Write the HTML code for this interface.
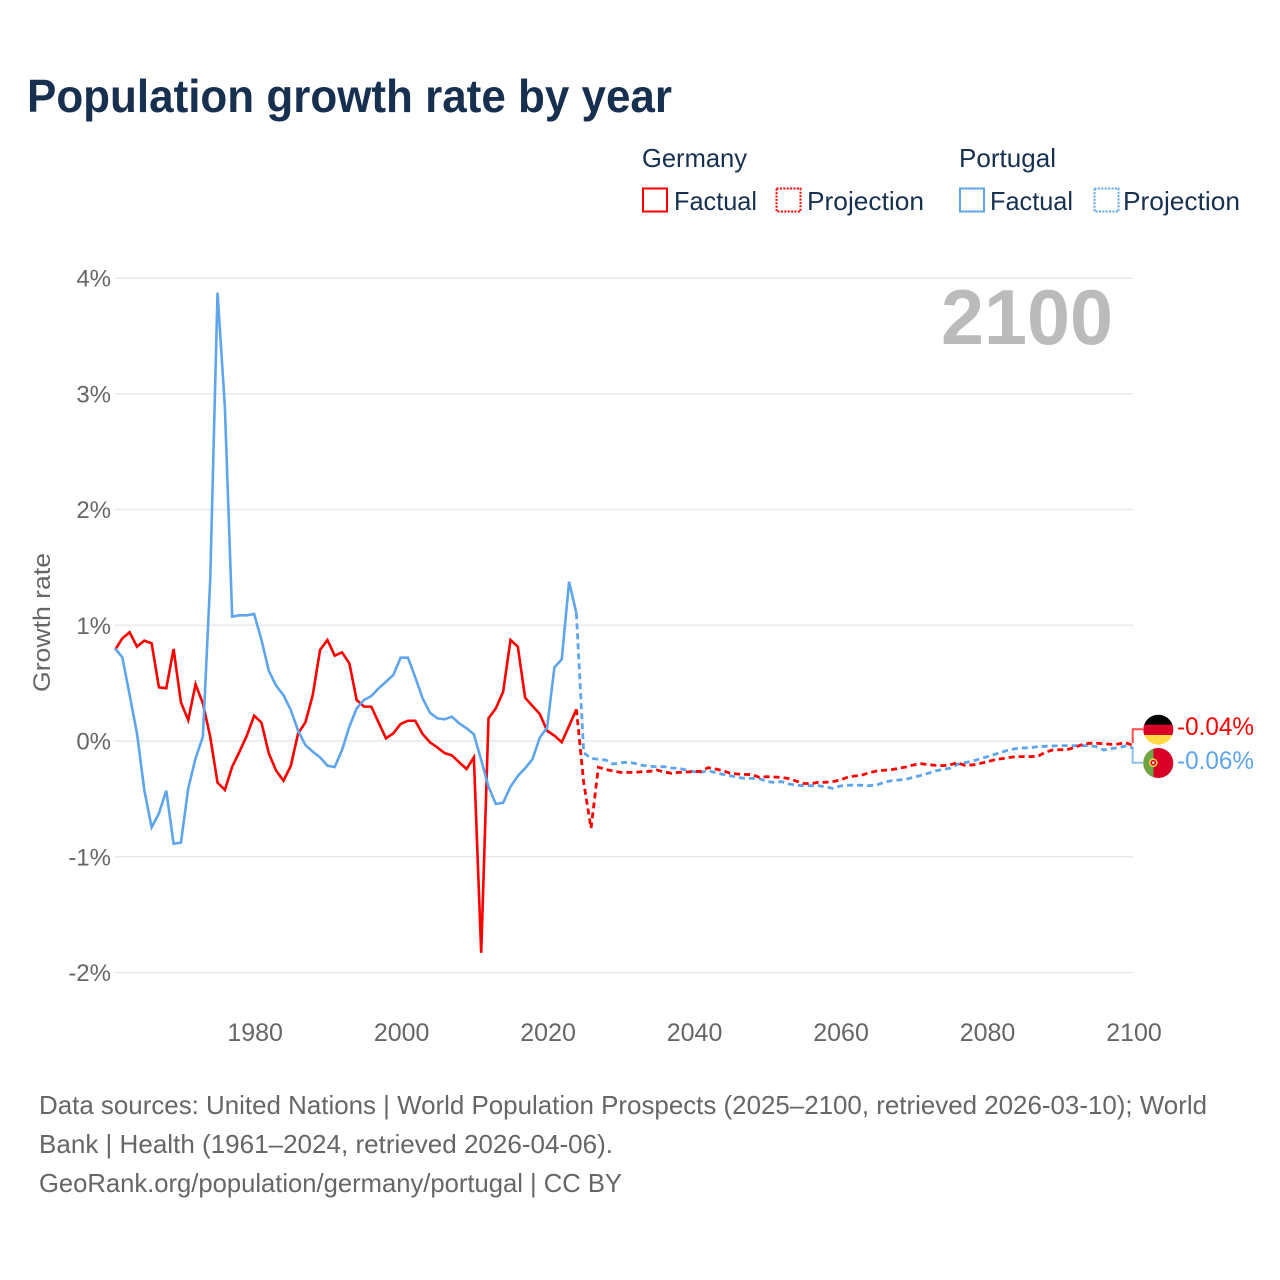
<!DOCTYPE html>
<html lang="en">
<head>
<meta charset="utf-8">
<title>Population growth rate by year</title>
<style>
html,body{margin:0;padding:0;background:#fff;}
svg{display:block;font-family:"Liberation Sans",sans-serif;}
</style>
</head>
<body>
<svg id="chart" xmlns="http://www.w3.org/2000/svg" width="1280" height="1280" viewBox="0 0 1280 1280">
  <rect x="0" y="0" width="1280" height="1280" fill="#ffffff"/>
  <text x="27" y="112" font-size="46" font-weight="700" fill="#17304f" textLength="645" lengthAdjust="spacingAndGlyphs">Population growth rate by year</text>

  <g font-size="26" fill="#17304f">
    <text x="642" y="167" textLength="105" lengthAdjust="spacingAndGlyphs">Germany</text>
    <text x="959" y="167" textLength="97" lengthAdjust="spacingAndGlyphs">Portugal</text>
    <g>
      <rect x="643" y="188.5" width="24" height="23" fill="none" stroke="#ff0000" stroke-width="2"/>
      <text x="674" y="210" textLength="83" lengthAdjust="spacingAndGlyphs">Factual</text>
    </g>
    <g>
      <rect x="776.5" y="188.5" width="24" height="23" fill="none" stroke="#ff0000" stroke-width="2" stroke-dasharray="2 1.4"/>
      <text x="807" y="210" textLength="117" lengthAdjust="spacingAndGlyphs">Projection</text>
    </g>
    <g>
      <rect x="960" y="188.5" width="24" height="23" fill="none" stroke="#5ea5ee" stroke-width="2"/>
      <text x="990" y="210" textLength="83" lengthAdjust="spacingAndGlyphs">Factual</text>
    </g>
    <g>
      <rect x="1094.5" y="188.5" width="24" height="23" fill="none" stroke="#5ea5ee" stroke-width="2" stroke-dasharray="2 1.4"/>
      <text x="1123" y="210" textLength="117" lengthAdjust="spacingAndGlyphs">Projection</text>
    </g>
  </g>

  <g id="grid"></g>
  <g id="yticks" font-size="24" fill="#666666" text-anchor="end"></g>
  <g id="xticks" font-size="25" fill="#666666" text-anchor="middle"></g>
  <text transform="translate(50,622.5) rotate(-90)" font-size="24" fill="#666666" text-anchor="middle" textLength="139" lengthAdjust="spacingAndGlyphs">Growth rate</text>
  <text x="941" y="344" font-size="78" font-weight="700" fill="#bbbbbb" textLength="172" lengthAdjust="spacingAndGlyphs">2100</text>

  <g id="series"></g>

  <path d="M1132.7 743V729.3H1143" fill="none" stroke="#ff0000" stroke-opacity="0.7" stroke-width="2"/>
  <path d="M1132.7 747V762.7H1143" fill="none" stroke="#5ea5ee" stroke-opacity="0.7" stroke-width="2"/>

  <clipPath id="clip-de"><circle cx="1158.3" cy="729.7" r="15"/></clipPath>
  <clipPath id="clip-pt"><circle cx="1158.3" cy="763" r="15"/></clipPath>
  <g clip-path="url(#clip-de)">
    <rect x="1143" y="714" width="31" height="11" fill="#000000"/>
    <rect x="1143" y="724.7" width="31" height="10.4" fill="#d80027"/>
    <rect x="1143" y="735" width="31" height="11" fill="#ffda44"/>
  </g>
  <g clip-path="url(#clip-pt)">
    <rect x="1143" y="747" width="31" height="32" fill="#d80027"/>
    <rect x="1143" y="747" width="10.5" height="32" fill="#6da544"/>
    <circle cx="1153.3" cy="762.7" r="3.6" fill="#d80027" stroke="#ffda44" stroke-width="1.5"/>
    <rect x="1152.2" y="761.5" width="2.2" height="2.4" fill="#eeeeee"/>
  </g>
  <text x="1177" y="735" font-size="25" fill="#ff0000" textLength="77" lengthAdjust="spacingAndGlyphs">-0.04%</text>
  <text x="1177" y="769" font-size="25" fill="#5ea5ee" textLength="77" lengthAdjust="spacingAndGlyphs">-0.06%</text>

  <g font-size="26" fill="#666666">
    <text x="39" y="1114" textLength="1168" lengthAdjust="spacingAndGlyphs">Data sources: United Nations | World Population Prospects (2025–2100, retrieved 2026-03-10); World</text>
    <text x="39" y="1153" textLength="574" lengthAdjust="spacingAndGlyphs">Bank | Health (1961–2024, retrieved 2026-04-06).</text>
    <text x="39" y="1192" textLength="583" lengthAdjust="spacingAndGlyphs">GeoRank.org/population/germany/portugal | CC BY</text>
  </g>
</svg>
<script>
const yTickValues = [4, 3, 2, 1, 0, -1, -2];
const xTickYears = [1980, 2000, 2020, 2040, 2060, 2080, 2100];
const factualStartYear = 1961;
const projectionStartYear = 2024;

const germanyFactual = [0.786,0.887,0.939,0.815,0.867,0.844,0.464,0.455,0.795,0.334,0.181,0.49,0.325,0.037,-0.36,-0.423,-0.222,-0.092,0.046,0.219,0.158,-0.107,-0.256,-0.343,-0.216,0.066,0.161,0.397,0.786,0.873,0.737,0.766,0.671,0.354,0.297,0.297,0.158,0.023,0.066,0.147,0.175,0.175,0.06,-0.011,-0.055,-0.104,-0.124,-0.184,-0.242,-0.141,-1.83,0.196,0.282,0.426,0.873,0.815,0.374,0.302,0.233,0.089,0.046,-0.011,0.13,0.274];

const portugalFactual = [0.80,0.723,0.397,0.066,-0.423,-0.746,-0.625,-0.429,-0.887,-0.878,-0.409,-0.15,0.037,1.39,3.873,2.888,1.074,1.086,1.086,1.097,0.873,0.607,0.478,0.397,0.268,0.089,-0.035,-0.092,-0.141,-0.213,-0.225,-0.078,0.124,0.282,0.354,0.389,0.455,0.512,0.57,0.72,0.72,0.55,0.369,0.245,0.196,0.187,0.21,0.153,0.11,0.058,-0.164,-0.395,-0.544,-0.533,-0.395,-0.302,-0.236,-0.158,0.029,0.115,0.637,0.706,1.376,1.103];

const germanyProjection = [0.274,-0.36,-0.754,-0.227,-0.245,-0.259,-0.271,-0.271,-0.271,-0.265,-0.262,-0.251,-0.268,-0.279,-0.271,-0.268,-0.265,-0.262,-0.23,-0.242,-0.256,-0.279,-0.285,-0.288,-0.291,-0.314,-0.308,-0.311,-0.314,-0.325,-0.346,-0.366,-0.369,-0.357,-0.357,-0.351,-0.337,-0.314,-0.302,-0.294,-0.274,-0.259,-0.253,-0.248,-0.236,-0.225,-0.207,-0.196,-0.204,-0.21,-0.213,-0.207,-0.187,-0.21,-0.207,-0.196,-0.181,-0.164,-0.153,-0.144,-0.135,-0.135,-0.135,-0.132,-0.098,-0.078,-0.075,-0.075,-0.055,-0.032,-0.02,-0.02,-0.023,-0.029,-0.026,-0.014,-0.04];

const portugalProjection = [1.103,-0.101,-0.15,-0.158,-0.164,-0.199,-0.187,-0.184,-0.193,-0.21,-0.219,-0.222,-0.222,-0.233,-0.236,-0.251,-0.265,-0.271,-0.256,-0.274,-0.288,-0.3,-0.314,-0.323,-0.323,-0.325,-0.351,-0.357,-0.351,-0.371,-0.383,-0.386,-0.386,-0.386,-0.395,-0.409,-0.389,-0.383,-0.38,-0.383,-0.386,-0.38,-0.357,-0.343,-0.337,-0.331,-0.314,-0.297,-0.279,-0.259,-0.245,-0.236,-0.202,-0.187,-0.176,-0.156,-0.138,-0.118,-0.098,-0.078,-0.066,-0.06,-0.058,-0.049,-0.046,-0.043,-0.04,-0.04,-0.04,-0.04,-0.04,-0.049,-0.078,-0.066,-0.058,-0.043,-0.06];

const SVG_NS = 'http://www.w3.org/2000/svg';
function xScale(year) { return 115 + (year - 1961) * (1133 - 115) / (2100 - 1961); }
function yScale(value) { return 741 - value * 115.75; }

const gridGroup = document.getElementById('grid');
const yTickGroup = document.getElementById('yticks');
const xTickGroup = document.getElementById('xticks');
const seriesGroup = document.getElementById('series');

yTickValues.forEach(function (v) {
  const line = document.createElementNS(SVG_NS, 'line');
  
  
  line.setAttribute('x1', xScale(1961));
  line.setAttribute('x2', xScale(2100));
  line.setAttribute('y1', yScale(v));
  line.setAttribute('y2', yScale(v));
  line.setAttribute('stroke', '#e9e9e9');
  line.setAttribute('stroke-width', '1.4');
  gridGroup.appendChild(line);

  const label = document.createElementNS(SVG_NS, 'text');
  
  
  label.setAttribute('x', 111);
  label.setAttribute('y', yScale(v) + 8.5);
  label.textContent = v + '%';
  yTickGroup.appendChild(label);
});

xTickYears.forEach(function (year) {
  const label = document.createElementNS(SVG_NS, 'text');
  
  
  label.setAttribute('x', xScale(year) + 1);
  label.setAttribute('y', 1041);
  label.textContent = String(year);
  xTickGroup.appendChild(label);
});

function drawSeries(values, startYear, color, dash, width, name) {
  const path = document.createElementNS(SVG_NS, 'path');
  const d = values.map(function (v, i) {
    return (i ? 'L' : 'M') + xScale(startYear + i).toFixed(2) + ' ' + yScale(v).toFixed(2);
  }).join('');
  
  
  path.setAttribute('d', d);
  path.setAttribute('fill', 'none');
  path.setAttribute('stroke', color);
  path.setAttribute('stroke-width', width);
  path.setAttribute('stroke-linejoin', 'miter');
  if (dash) path.setAttribute('stroke-dasharray', dash);
  seriesGroup.appendChild(path);
}

drawSeries(germanyFactual, factualStartYear, '#ff0000', null, '2.6', 'germany-factual-line');
drawSeries(portugalFactual, factualStartYear, '#5ea5ee', null, '2.6', 'portugal-factual-line');
drawSeries(portugalProjection, projectionStartYear, '#5ea5ee', '6 4', '2.8', 'portugal-projection-line');
drawSeries(germanyProjection, projectionStartYear, '#ff0000', '6 4', '2.8', 'germany-projection-line');
</script>
</body>
</html>
